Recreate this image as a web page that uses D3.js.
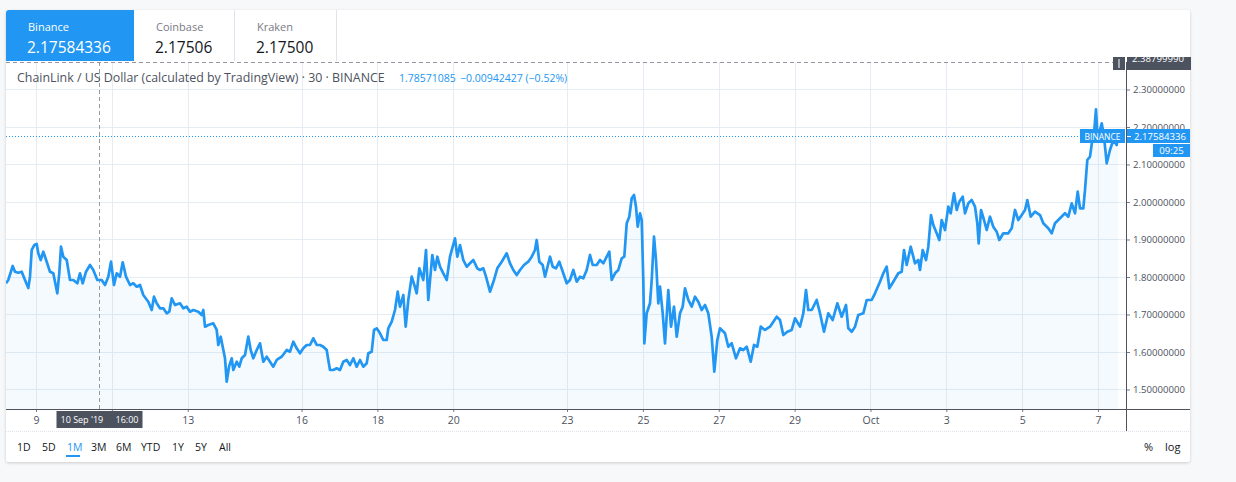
<!DOCTYPE html>
<html><head><meta charset="utf-8">
<script src="https://cdn.jsdelivr.net/npm/d3@7"></script>
<style>
html,body{margin:0;padding:0;background:#f7f8fa;}
svg{display:block;font-family:"Open Sans","Noto Sans",sans-serif;}
</style></head><body>
<svg id="c" width="1236" height="482"></svg>
<script>
// ---------- data ----------
const exchanges = ["Binance", "Coinbase", "Kraken"];
const exchangePrices = ["2.17584336", "2.17506", "2.17500"];
const seriesTitle = "ChainLink / US Dollar (calculated by TradingView) · 30 · BINANCE";
const openValue = "1.78571085";
const changeValue = "\u22120.00942427 (\u22120.52%)";
// time of each sample, in hours after 9 Sep 2019 00:00
const hoursFromSep9 = [-18.98,-17.53,-14.74,-13.29,-11.20,-9.05,-6.96,-4.87,-3.80,-2.72,-1.08,0.44,1.46,2.97,4.62,6.77,8.86,10.95,12.02,13.48,14.74,15.82,17.27,19.43,21.51,23.60,26.13,27.84,29.55,31.64,34.17,36.26,38.79,41.57,43.66,45.75,47.46,49.35,51.06,53.15,54.86,56.95,59.48,61.57,63.72,65.80,67.89,71.06,73.21,74.66,76.37,78.46,80.55,82.70,84.34,85.86,87.95,91.11,93.20,95.35,97.44,99.53,102.69,104.85,105.86,106.93,109.02,112.18,114.34,115.35,116.87,118.13,119.59,120.66,122.12,123.83,124.84,126.99,128.64,130.16,132.24,134.33,135.85,137.50,139.65,141.73,143.82,145.97,148.06,150.15,152.30,155.46,158.63,160.72,162.80,164.96,167.04,169.13,171.28,173.37,175.46,177.61,179.70,181.79,183.94,184.95,186.03,188.11,190.26,192.35,194.44,196.59,198.68,200.77,202.92,205.01,207.10,209.25,210.26,212.41,213.87,215.57,217.66,219.75,221.90,222.92,225.07,227.15,228.86,230.32,232.41,233.92,235.57,237.72,239.37,240.88,242.53,245.06,246.77,248.22,250.76,252.46,253.92,255.63,257.72,259.87,261.95,263.66,265.12,266.57,268.28,270.37,272.52,274.61,276.70,279.23,280.94,283.03,284.73,287.26,289.79,291.88,294.67,297.83,299.92,302.01,304.16,306.25,308.78,311.50,313.65,315.74,316.81,318.46,320.61,322.06,323.14,325.23,326.94,329.02,331.11,333.64,335.80,337.88,339.97,342.12,344.21,346.30,348.45,350.54,352.25,354.78,356.87,358.96,361.11,362.75,364.27,366.36,368.45,370.60,372.24,373.76,375.40,376.92,378.38,379.64,380.72,382.18,383.25,384.26,384.90,386.41,388.50,389.58,391.03,392.30,393.75,394.83,396.54,397.99,400.08,401.79,403.69,405.40,407.48,409.19,410.65,412.74,414.89,416.98,419.07,421.21,423.30,425.39,427.54,429.19,431.09,432.79,435.96,438.05,440.19,442.92,445.45,447.54,449.69,452.22,454.31,456.40,458.55,461.27,464.43,468.67,470.76,472.85,475.38,478.16,480.25,483.41,485.50,487.21,488.67,490.82,493.98,496.07,498.60,501.32,504.10,507.02,509.80,512.52,513.97,516.13,518.21,520.30,523.47,525.62,528.78,530.87,534.03,536.12,538.27,539.92,542.45,545.61,547.76,549.22,550.93,553.46,556.18,558.27,559.34,561.05,563.14,564.59,566.30,567.76,569.91,571.55,573.07,575.16,577.25,578.77,580.86,582.57,584.21,586.36,587.82,589.90,592.06,594.14,595.60,596.48,597.94,599.84,601.55,603.63,605.72,607.87,609.52,612.05,615.21,617.37,619.45,621.54,623.69,625.78,627.24,629.39,632.11,635.27,637.36,640.52,642.67,644.76,647.93,651.09,653.18,655.33,657.42,659.13,660.58,662.67,663.74,665.20,666.91,668.62,669.63,670.70,671.53,673.24,674.32,675.77,677.48,679.56,681.65,683.80,684.63];
const prices = [1.7832,1.7920,1.8293,1.8141,1.8115,1.8141,1.7920,1.7707,1.8008,1.8720,1.8853,1.8880,1.8632,1.8453,1.8675,1.8408,1.8141,1.8099,1.7875,1.7565,1.8107,1.8808,1.8541,1.8453,1.7920,1.7920,1.7832,1.8099,1.7832,1.8141,1.8320,1.8187,1.7920,1.7920,1.7787,1.8008,1.8408,1.7787,1.8099,1.8008,1.8392,1.8008,1.7787,1.7832,1.7741,1.7787,1.7520,1.7341,1.7120,1.7475,1.7299,1.7165,1.7165,1.7032,1.7075,1.7432,1.7253,1.7299,1.7165,1.7208,1.7075,1.7120,1.7075,1.6987,1.7120,1.6675,1.6720,1.6765,1.6587,1.6187,1.6408,1.6141,1.5832,1.5208,1.5608,1.5832,1.5520,1.5741,1.5608,1.5832,1.5920,1.6408,1.6053,1.5832,1.6053,1.6232,1.5741,1.5875,1.5741,1.5608,1.5787,1.5875,1.6053,1.6008,1.6275,1.6099,1.5965,1.6099,1.6187,1.6187,1.6365,1.6187,1.6187,1.6141,1.6053,1.5787,1.5520,1.5520,1.5565,1.5520,1.5741,1.5787,1.5653,1.5832,1.5608,1.5787,1.5608,1.5699,1.5965,1.6008,1.6587,1.6632,1.6499,1.6320,1.6320,1.6632,1.6808,1.7120,1.7608,1.7208,1.7520,1.6675,1.7387,1.8008,1.7787,1.7565,1.8232,1.7920,1.8720,1.7387,1.8587,1.8187,1.8541,1.8275,1.8099,1.7920,1.8541,1.8808,1.9032,1.8541,1.8853,1.8453,1.8275,1.8365,1.8453,1.8232,1.8187,1.8232,1.8008,1.7608,1.7920,1.8232,1.8408,1.8632,1.8365,1.8187,1.8053,1.8187,1.8320,1.8408,1.8541,1.8720,1.8987,1.8408,1.8320,1.8008,1.8187,1.8541,1.8275,1.8232,1.8408,1.8099,1.7832,1.7920,1.8187,1.7875,1.8008,1.7965,1.8187,1.8587,1.8320,1.8320,1.8453,1.8365,1.8541,1.8675,1.7920,1.8099,1.8187,1.8499,1.8541,1.9432,1.9608,2.0099,2.0187,1.9875,1.9341,1.9699,1.9520,1.7920,1.6232,1.7032,1.7299,1.7920,1.9075,1.8453,1.7299,1.7741,1.7032,1.6232,1.7653,1.6675,1.7208,1.6408,1.7032,1.7208,1.7699,1.7387,1.7208,1.7475,1.7341,1.7120,1.7253,1.7032,1.6408,1.5475,1.6320,1.6632,1.6499,1.6141,1.6232,1.5832,1.6099,1.6053,1.6141,1.5741,1.6187,1.6141,1.6675,1.6587,1.6675,1.6941,1.6853,1.6453,1.6541,1.6587,1.6899,1.6675,1.7032,1.7653,1.7120,1.7120,1.7387,1.7032,1.6541,1.7032,1.6853,1.7299,1.6941,1.7253,1.6632,1.6541,1.6675,1.6987,1.7032,1.7387,1.7387,1.7565,1.7875,1.8099,1.8275,1.7699,1.7875,1.8099,1.8141,1.8720,1.8320,1.8808,1.8365,1.8453,1.8187,1.8720,1.8453,1.8808,1.9653,1.9387,1.9165,1.8987,1.9520,1.9253,1.9875,1.9699,2.0232,1.9787,2.0008,2.0141,1.9699,1.9965,2.0053,1.9875,1.9432,1.8899,1.9787,1.9520,1.9253,1.9608,1.9341,1.9208,1.8987,1.9165,1.9165,1.9299,1.9787,1.9520,1.9653,1.9787,2.0053,1.9608,1.9741,1.9653,1.9432,1.9299,1.9165,1.9432,1.9565,1.9699,1.9608,1.9965,1.9699,2.0275,1.9832,1.9832,2.0320,2.1120,2.1208,2.1741,2.1920,2.2472,2.1832,2.1920,2.2099,2.1741,2.1032,2.1387,2.1653,2.1520,2.17584336];
const tickDates = ["2019-09-09","2019-09-11","2019-09-13","2019-09-16","2019-09-18","2019-09-20","2019-09-23","2019-09-25","2019-09-27","2019-09-29","2019-10-01","2019-10-03","2019-10-05","2019-10-07"];
// the "11" label sits under the crosshair time label in the reference, so it is not shown
const tickLabels = ["9","","13","16","18","20","23","25","27","29","Oct","3","5","7"];
const priceTicks = [1.5, 1.6, 1.7, 1.8, 1.9, 2.0, 2.1, 2.2, 2.3];
const lastPrice = 2.17584336;
const crosshairPrice = 2.3879999;
const crosshairTime = "2019-09-10T16:00";
const crosshairLabel = ["10 Sep '19", "16:00"];
const countdown = "09:25";
const ranges = ["1D","5D","1M","3M","6M","YTD","1Y","5Y","All"];
const activeRange = "1M";
const scaleButtons = ["%", "log"];

// ---------- layout ----------
const svg = d3.select("#c");
const card = {x: 6, y: 10, w: 1184, h: 452};
const pane = {l: 6, r: 1126, t: 62, b: 409};
const blue = "#2196f3", textCol = "#4c525e", gridCol = "#e6ecf3";

const defs = svg.append("defs");
const f = defs.append("filter").attr("id", "sh").attr("x", "-5%").attr("y", "-5%").attr("width", "110%").attr("height", "110%");
f.append("feDropShadow").attr("dx", 0).attr("dy", 1).attr("stdDeviation", 1.5).attr("flood-color", "#000").attr("flood-opacity", 0.18);
defs.append("clipPath").attr("id", "paneClip").append("rect")
  .attr("x", pane.l).attr("y", pane.t).attr("width", pane.r - pane.l).attr("height", pane.b - pane.t);
defs.append("clipPath").attr("id", "topClip").append("rect")
  .attr("x", 0).attr("y", 57).attr("width", 1236).attr("height", 30);

svg.append("rect").attr("x", card.x).attr("y", card.y).attr("width", card.w).attr("height", card.h)
  .attr("rx", 3).attr("fill", "#fff").attr("filter", "url(#sh)");

// scales
const parseUTC = d3.utcParse("%Y-%m-%d");
const base = Date.UTC(2019, 8, 9);
const x = d3.scaleUtc()
  .domain([new Date(Date.UTC(2019, 8, 8, 5, 1)), new Date(Date.UTC(2019, 9, 7, 17, 41))])
  .range([pane.l, pane.r]);
const y = d3.scaleLinear().domain([1.448, 2.3733]).range([pane.b, pane.t]);

const data = hoursFromSep9.map((h, i) => ({t: new Date(base + h * 3600e3), v: prices[i]}))
  .filter(d => d.v != null);
const tickDateObjs = tickDates.map(parseUTC);

// grid
const g = svg.append("g").attr("clip-path", "url(#paneClip)");
g.selectAll("line.vg").data(tickDateObjs).join("line")
  .attr("x1", d => Math.round(x(d)) + 0.5).attr("x2", d => Math.round(x(d)) + 0.5)
  .attr("y1", pane.t).attr("y2", pane.b).attr("stroke", gridCol);
g.selectAll("line.hg").data(priceTicks).join("line")
  .attr("x1", pane.l).attr("x2", pane.r)
  .attr("y1", d => Math.round(y(d)) + 0.5).attr("y2", d => Math.round(y(d)) + 0.5).attr("stroke", gridCol);

// area + line
g.append("path").datum(data)
  .attr("d", d3.area().x(d => x(d.t)).y0(pane.b).y1(d => y(d.v)))
  .attr("fill", "rgba(33,150,243,0.05)");

// crosshair vertical
const cx = Math.round(x(new Date(crosshairTime + ":00Z"))) + 0.5;
g.append("line").attr("x1", cx).attr("x2", cx).attr("y1", pane.t).attr("y2", pane.b)
  .attr("stroke", "#9598a1").attr("stroke-dasharray", "4,3");

g.append("path").datum(data)
  .attr("d", d3.line().x(d => x(d.t)).y(d => y(d.v)))
  .attr("fill", "none").attr("stroke", blue).attr("stroke-width", 2.7).attr("stroke-linejoin", "round");

// last price dotted line
const ly = Math.round(y(lastPrice)) + 0.5;
svg.append("line").attr("x1", pane.l).attr("x2", 1080).attr("y1", ly).attr("y2", ly)
  .attr("stroke", blue).attr("stroke-dasharray", "1,2");

// crosshair horizontal (top)
svg.append("line").attr("x1", pane.l).attr("x2", 1113).attr("y1", 62.5).attr("y2", 62.5)
  .attr("stroke", "#9598a1").attr("stroke-dasharray", "4,3");

// title
svg.append("text").attr("x", 17).attr("y", 82).attr("font-size", 12.4).attr("fill", textCol).text(seriesTitle);
svg.append("text").attr("x", 399).attr("y", 82).attr("font-size", 10.5).attr("fill", blue).text(openValue);
svg.append("text").attr("x", 460).attr("y", 82).attr("font-size", 10.5).attr("fill", blue).text(changeValue);

// tabs
const tabX = [6, 134, 235, 337];
exchanges.forEach((ex, i) => {
  const active = i === 0;
  if (active) svg.append("path")
    .attr("d", `M${tabX[i]},61 L${tabX[i]},13 Q${tabX[i]},10 ${tabX[i]+3},10 L${tabX[i+1]},10 L${tabX[i+1]},61 Z`)
    .attr("fill", blue);
  else svg.append("line").attr("x1", tabX[i+1] - 0.5).attr("x2", tabX[i+1] - 0.5).attr("y1", 10).attr("y2", 61)
    .attr("stroke", "#e0e3eb");
  svg.append("text").attr("x", tabX[i] + 22).attr("y", 31).attr("font-size", 11)
    .attr("fill", active ? "#fff" : "#787b86").text(ex);
  svg.append("text").attr("x", tabX[i] + 21).attr("y", 53).attr("font-size", 15.5)
    .attr("fill", active ? "#fff" : "#131722").text(exchangePrices[i]);
});

// axes
const xAxis = d3.axisBottom(x).tickValues(tickDateObjs)
  .tickFormat((d, i) => tickLabels[i]).tickSize(3).tickPadding(5);
const xg = svg.append("g").attr("transform", `translate(0,${pane.b})`).call(xAxis);
xg.select(".domain").remove();
xg.selectAll("text").attr("font-size", 10.5).attr("fill", textCol).attr("font-family", "Open Sans");
xg.selectAll("line").attr("stroke", "#787b86");

const yAxis = d3.axisRight(y).tickValues(priceTicks).tickFormat(d => d.toFixed(8)).tickSize(4).tickPadding(3);
const yg = svg.append("g").attr("transform", `translate(${pane.r},0)`).call(yAxis);
yg.select(".domain").remove();
yg.selectAll("text").attr("font-size", 9.6).attr("fill", textCol).attr("font-family", "Open Sans");
yg.selectAll("line").attr("stroke", "#787b86");

// axis lines
svg.append("line").attr("x1", pane.l).attr("x2", card.x + card.w).attr("y1", pane.b + 0.5).attr("y2", pane.b + 0.5)
  .attr("stroke", "#50535e");
svg.append("line").attr("x1", pane.r + 0.5).attr("x2", pane.r + 0.5).attr("y1", pane.t).attr("y2", 431)
  .attr("stroke", "#50535e");
svg.append("line").attr("x1", card.x).attr("x2", card.x + card.w).attr("y1", 431.5).attr("y2", 431.5)
  .attr("stroke", "#e0e3eb").attr("stroke-dasharray", "1,1");

// crosshair time label
svg.append("rect").attr("x", cx - 43).attr("y", 411).attr("width", 86).attr("height", 17).attr("fill", "#4c525e");
svg.append("text").attr("x", cx - 39).attr("y", 423).attr("font-size", 9).attr("fill", "#fff").text(crosshairLabel[0]);
svg.append("text").attr("x", cx + 16).attr("y", 423).attr("font-size", 9).attr("fill", "#fff").text(crosshairLabel[1]);

// crosshair price label (clipped at top)
const tg = svg.append("g").attr("clip-path", "url(#topClip)");
tg.append("rect").attr("x", pane.r + 1).attr("y", 55).attr("width", 64).attr("height", 15).attr("fill", "#4c525e");
tg.append("text").attr("x", pane.r + 6).attr("y", 62).attr("font-size", 9.6).attr("fill", "#fff").text(crosshairPrice.toFixed(8));
svg.append("rect").attr("x", 1113).attr("y", 57).attr("width", 12).attr("height", 13).attr("fill", "#4c525e");
svg.append("line").attr("x1", 1119).attr("x2", 1119).attr("y1", 59).attr("y2", 68).attr("stroke", "#fff");

// last price labels
svg.append("rect").attr("x", 1080).attr("y", ly - 7.5).attr("width", 45).attr("height", 14).attr("fill", blue);
svg.append("text").attr("x", 1102.5).attr("y", ly + 3.5).attr("text-anchor", "middle").attr("font-size", 8.5)
  .attr("fill", "#fff").text(exchanges[0].toUpperCase());
svg.append("rect").attr("x", pane.r + 1).attr("y", ly - 7.5).attr("width", card.x + card.w - pane.r - 1).attr("height", 14).attr("fill", blue);
svg.append("line").attr("x1", pane.r + 1).attr("x2", pane.r + 5).attr("y1", ly).attr("y2", ly).attr("stroke", "#fff");
svg.append("text").attr("x", pane.r + 8).attr("y", ly + 3.5).attr("font-size", 9.6).attr("fill", "#fff").text(lastPrice.toFixed(8));
svg.append("rect").attr("x", 1153).attr("y", ly + 7.5).attr("width", 37).attr("height", 13).attr("fill", blue);
svg.append("text").attr("x", 1171.5).attr("y", ly + 17.5).attr("text-anchor", "middle").attr("font-size", 9.6).attr("fill", "#fff").text(countdown);

// bottom toolbar
const rangeX = [17, 42, 67, 91, 116, 141, 172, 195, 219];
ranges.forEach((r, i) => {
  const on = r === activeRange;
  svg.append("text").attr("x", rangeX[i]).attr("y", 451).attr("font-size", 10.5)
    .attr("fill", on ? blue : "#131722").text(r);
  if (on) svg.append("rect").attr("x", rangeX[i] - 1).attr("y", 455).attr("width", 14).attr("height", 2).attr("fill", blue);
});
svg.append("text").attr("x", 1144).attr("y", 451).attr("font-size", 11).attr("fill", "#131722").text(scaleButtons[0]);
svg.append("text").attr("x", 1165).attr("y", 451).attr("font-size", 11).attr("fill", "#131722").text(scaleButtons[1]);
</script></body></html>
